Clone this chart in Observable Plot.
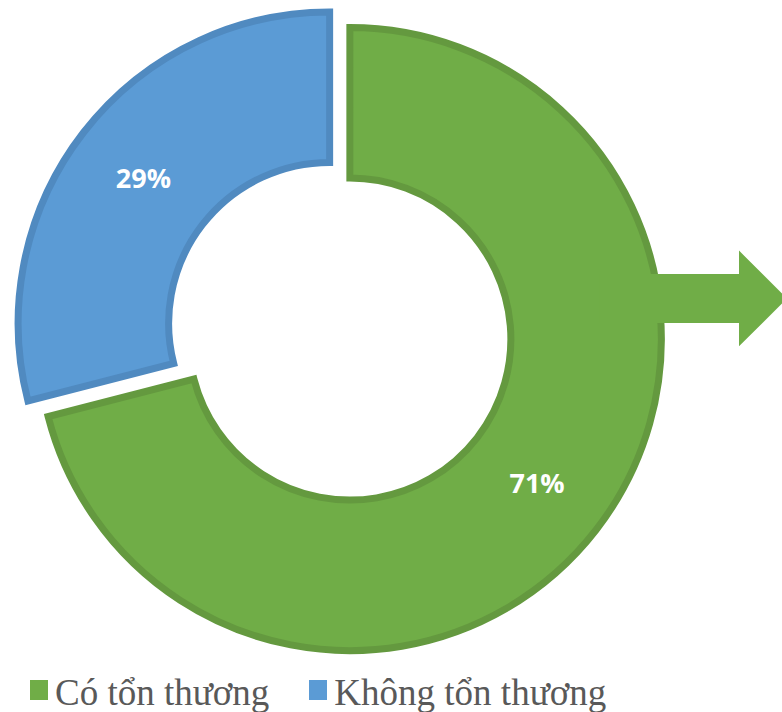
<!DOCTYPE html>
<html><head><meta charset="utf-8">
<script src="https://cdn.jsdelivr.net/npm/d3@7"></script>
<script src="https://cdn.jsdelivr.net/npm/@observablehq/plot@0.6"></script>
<style>
body{margin:0;background:#fff;width:782px;height:712px;overflow:hidden;position:relative;}
#chart{position:absolute;left:0;top:0;}
#legend{position:absolute;left:30px;top:674px;font-family:"Liberation Serif","Times New Roman",serif;font-size:37px;line-height:37px;color:#595959;display:flex;align-items:center;white-space:nowrap;}
.item{display:flex;align-items:center;margin-right:40px;}
.sw{display:inline-block;width:18px;height:20px;margin-right:7px;position:relative;top:-3px;}
</style></head><body>
<div id="chart"></div><div id="legend"></div>
<script>
// ---- data ----
const categories = ["Có tổn thương", "Không tổn thương"];
const values = [71, 29];
const labels = ["71%", "29%"];
const fills = ["#70AD47", "#5B9BD5"];
const borders = ["#64993F", "#508AC0"];

// ---- layout ----
const W = 782, H = 665;
const pxPerUnit = 315;          // outer radius in px
const center = [339.75, 331.25]; // px
const holeRatio = 0.5;
const explode = 12.8 / pxPerUnit;
const borderW = 7;
// arrow (units of radius, relative to center)
const arrow = {x1: 0.826, x2: 1.2675, yc: 0.104, half: 0.0778, headHalf: 0.152, headLen: 0.152};

const pie = d3.pie().sort(null).value(d => d.value)(
  categories.map((c, i) => ({category: c, value: values[i], label: labels[i], fill: fills[i], border: borders[i]}))
);
const slices = pie.map(p => {
  const mid = (p.startAngle + p.endAngle) / 2;
  const ox = explode * Math.sin(mid), oy = explode * Math.cos(mid);
  const mr = (1 + holeRatio) / 2;
  return {...p.data, arc: p, ox, oy, lx: ox + mr * Math.sin(mid), ly: oy + mr * Math.cos(mid)};
});

function donutMark(index, scales) {
  const x = scales.x, y = scales.y;
  const u = x(1) - x(0);
  const g = d3.create("svg:g");
  const arcGen = d3.arc().innerRadius(holeRatio * u + borderW / 2).outerRadius(u - borderW / 2);
  for (const s of slices) {
    g.append("path")
      .attr("transform", `translate(${x(s.ox)},${y(s.oy)})`)
      .attr("d", arcGen(s.arc))
      .attr("fill", s.fill)
      .attr("stroke", s.border)
      .attr("stroke-width", borderW)
      .attr("stroke-linejoin", "miter");
  }
  return g.node();
}

function arrowMark(index, scales) {
  const x = scales.x, y = scales.y;
  const a = arrow;
  const pts = [
    [a.x1, a.yc + a.half], [a.x2, a.yc + a.half], [a.x2, a.yc + a.headHalf],
    [a.x2 + a.headLen, a.yc], [a.x2, a.yc - a.headHalf], [a.x2, a.yc - a.half], [a.x1, a.yc - a.half]
  ].map(([px, py]) => [x(px), y(py)]);
  const g = d3.create("svg:g");
  g.append("path").attr("d", "M" + pts.join("L") + "Z").attr("fill", fills[0]);
  return g.node();
}

const plot = Plot.plot({
  width: W, height: H,
  margin: 0,
  style: {background: "#fff", overflow: "visible"},
  x: {domain: [-center[0] / pxPerUnit, (W - center[0]) / pxPerUnit], axis: null},
  y: {domain: [(center[1] - H) / pxPerUnit, center[1] / pxPerUnit], axis: null},
  marks: [
    donutMark,
    arrowMark,
    Plot.text(slices, {x: "lx", y: "ly", text: "label", fill: "#fff",
      fontFamily: "'Open Sans', sans-serif", fontWeight: "bold", fontSize: 27})
  ]
});
document.getElementById("chart").appendChild(plot);

const legend = d3.select("#legend");
categories.forEach((c, i) => {
  const it = legend.append("span").attr("class", "item");
  it.append("span").attr("class", "sw").style("background", fills[i]);
  it.append("span").text(c);
});
</script>
</body></html>
